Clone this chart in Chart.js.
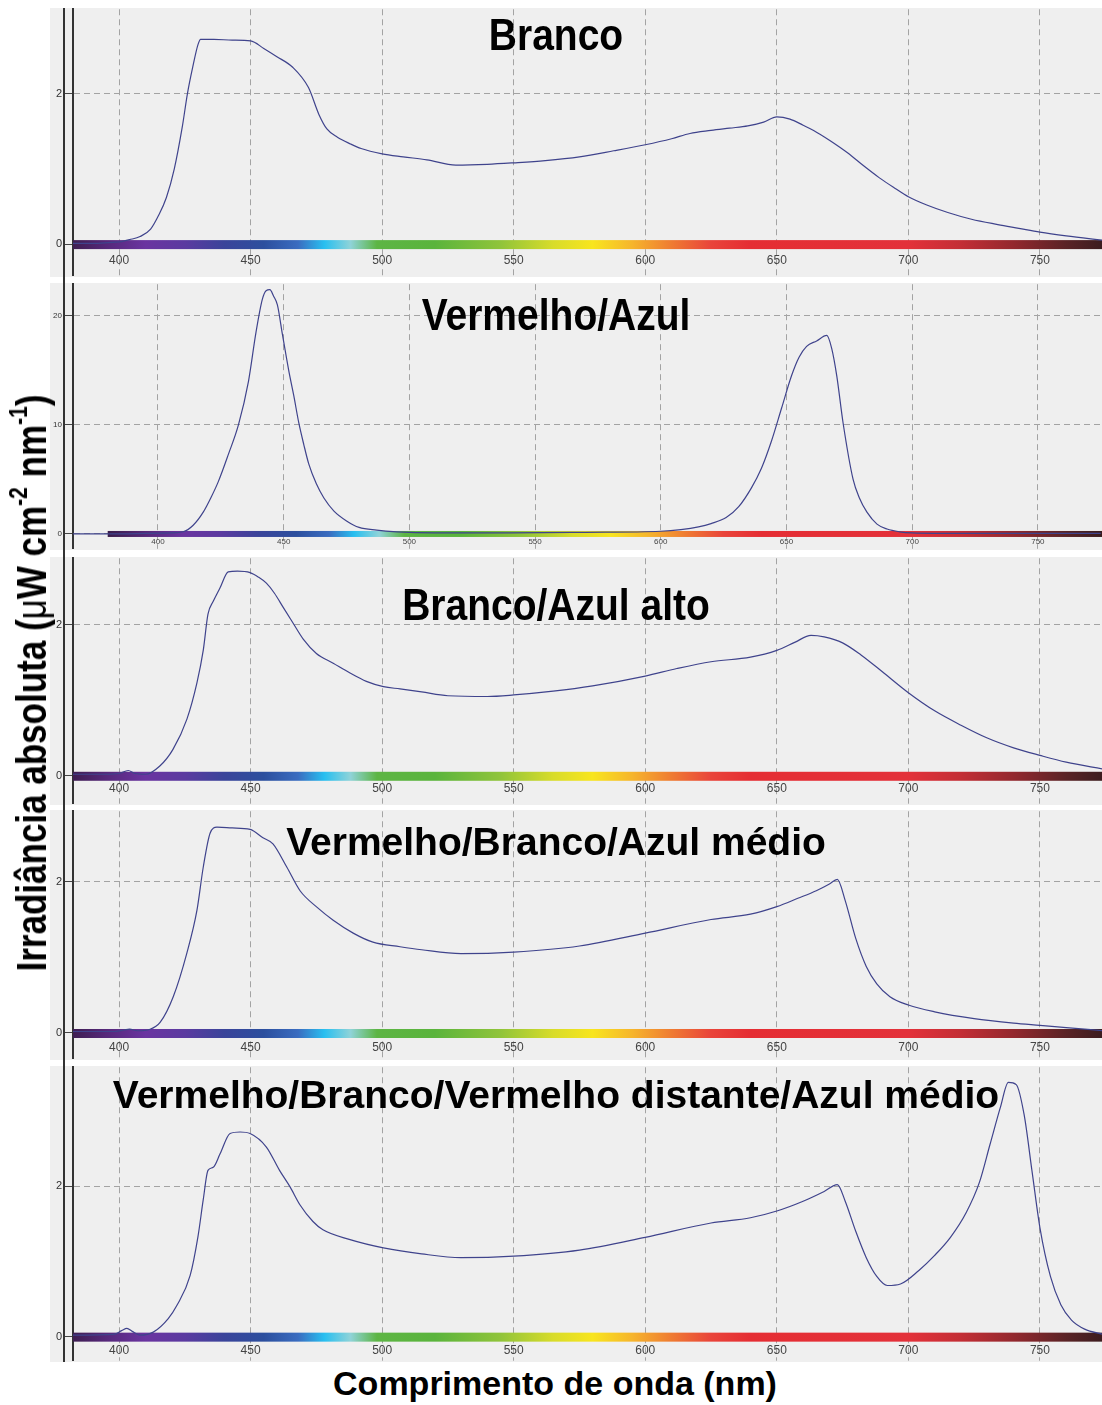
<!DOCTYPE html>
<html>
<head>
<meta charset="utf-8">
<script src="https://cdn.jsdelivr.net/npm/chart.js@4.4.1/dist/chart.umd.min.js"></script>
<style>
  body {
    margin: 0;
    width: 1102px;
    height: 1405px;
    position: relative;
    overflow: hidden;
    background: #fff;
    font-family: "Liberation Sans", Arial, sans-serif;
  }
  canvas { position: absolute; left: 50px; }
  .title {
    position: absolute;
    left: 556px;
    font-weight: bold;
    font-size: 39px;
    line-height: 39px;
    white-space: nowrap;
    color: #000;
  }
  .axis-line { position: absolute; left: 63px; top: 8px; width: 2px; height: 1354px; background: #333; }
  #ytitle {
    position: absolute;
    left: 31px;
    top: 683px;
    font-weight: bold;
    font-size: 35px;
    line-height: 35px;
    white-space: nowrap;
    transform: translate(-50%, -50%) rotate(-90deg) scale(1, 1.2);
  }
  #ytitle sup { font-size: 0.6em; line-height: 0; vertical-align: 0.75em; }
  #xtitle {
    position: absolute;
    left: 555px;
    top: 1366px;
    font-weight: bold;
    font-size: 34px;
    line-height: 34px;
    white-space: nowrap;
    transform: translateX(-50%);
  }
</style>
</head>
<body>
<canvas id="p1" width="1052" height="269" style="top:8px"></canvas>
<canvas id="p2" width="1052" height="267" style="top:283px"></canvas>
<canvas id="p3" width="1052" height="248" style="top:557px"></canvas>
<canvas id="p4" width="1052" height="250" style="top:810px"></canvas>
<canvas id="p5" width="1052" height="296" style="top:1066px"></canvas>
<div class="axis-line"></div>

<div class="title" style="top:15px; transform: translateX(-50%) scaleY(1.15)">Branco</div>
<div class="title" style="top:295px; transform: translateX(-50%) scaleY(1.15)">Vermelho/Azul</div>
<div class="title" style="top:585px; transform: translateX(-50%) scaleY(1.15)">Branco/Azul alto</div>
<div class="title" style="top:822px; transform: translateX(-50%)">Vermelho/Branco/Azul médio</div>
<div class="title" style="top:1075px; transform: translateX(-50%)">Vermelho/Branco/Vermelho distante/Azul médio</div>

<div id="ytitle">Irradiância absoluta (<span style="font-weight:normal">μ</span>W cm<sup>-2</sup> nm<sup>-1</sup>)</div>
<div id="xtitle">Comprimento de onda (nm)</div>

<script>
Chart.defaults.font.family = '"Liberation Sans", Arial, sans-serif';

// tick steps
const xTickStep = 50;
const yTickSteps = [2, 10, 2, 2, 2];

// Branco
const brancoNm = [382, 390, 396, 400, 404, 408, 412, 415, 418, 421, 424, 426, 428, 430, 431, 436, 443, 450, 455, 460, 466, 472, 476, 479, 483, 488, 492, 500, 508, 517, 528, 540, 550, 562, 575, 588, 600, 610, 617, 625, 632, 639, 645, 650, 655, 660, 664, 670, 677, 683, 689, 695, 700, 707, 715, 724, 734, 742, 750, 760, 774];
const brancoVal = [0.01, 0.01, 0.02, 0.03, 0.06, 0.1, 0.2, 0.38, 0.62, 1.0, 1.55, 2.0, 2.35, 2.65, 2.72, 2.72, 2.71, 2.7, 2.6, 2.49, 2.35, 2.08, 1.72, 1.53, 1.42, 1.33, 1.27, 1.2, 1.16, 1.12, 1.05, 1.06, 1.08, 1.11, 1.16, 1.24, 1.32, 1.4, 1.47, 1.51, 1.54, 1.57, 1.62, 1.69, 1.66, 1.58, 1.51, 1.38, 1.21, 1.04, 0.88, 0.74, 0.63, 0.52, 0.42, 0.33, 0.26, 0.21, 0.16, 0.11, 0.05];

// Vermelho/Azul
const vermAzulNm = [366, 380, 395, 405, 410, 414, 418, 421, 424, 428, 432, 436, 439, 441.5, 443, 444.5, 446, 447.5, 449.5, 452, 454, 456, 458, 460, 463, 466, 470, 475, 480, 487, 495, 510, 540, 570, 600, 608, 615, 620, 626, 631, 636, 640, 644, 648, 652, 655, 658, 662, 666, 668, 670, 672.5, 676.5, 679, 682, 686, 690, 695, 700, 720, 750, 775];
const vermAzulVal = [0, 0, 0.05, 0.1, 0.2, 0.8, 2.0, 3.3, 4.8, 7.3, 10.0, 14.0, 18.5, 21.5, 22.3, 22.4, 21.8, 21.0, 18.3, 15.0, 12.7, 10.2, 8.2, 6.4, 4.6, 3.3, 2.1, 1.2, 0.6, 0.35, 0.2, 0.1, 0.1, 0.15, 0.25, 0.4, 0.65, 0.95, 1.5, 2.5, 4.2, 6.0, 8.5, 11.5, 14.5, 16.2, 17.2, 17.7, 18.2, 17.0, 14.5, 10.2, 5.0, 3.3, 2.0, 0.9, 0.45, 0.2, 0.1, 0.05, 0.05, 0.05];

// Branco/Azul alto
const brancoAzulNm = [382, 395, 400, 403.5, 406, 410, 415.5, 420.5, 425.8, 429.6, 432, 433.8, 435.8, 438.4, 441.5, 445, 449.8, 453, 456, 459, 462.4, 466, 470, 475, 481.4, 487.8, 494, 500.5, 506.8, 515, 525, 540, 550, 565, 580, 600, 612, 625, 640, 650, 657, 663, 668, 675, 682, 690, 700, 710, 720, 730, 740, 750, 760, 774];
const brancoAzulVal = [0.02, 0.02, 0.03, 0.07, 0.03, 0.02, 0.13, 0.35, 0.75, 1.23, 1.66, 2.14, 2.31, 2.49, 2.7, 2.71, 2.69, 2.63, 2.55, 2.42, 2.23, 2.03, 1.81, 1.62, 1.49, 1.36, 1.25, 1.18, 1.15, 1.11, 1.06, 1.05, 1.07, 1.12, 1.19, 1.32, 1.42, 1.51, 1.57, 1.66, 1.77, 1.86, 1.84, 1.76, 1.6, 1.38, 1.1, 0.86, 0.67, 0.5, 0.37, 0.27, 0.18, 0.09];

// Vermelho/Branco/Azul médio
const vbaNm = [382, 398, 402, 404, 407, 411.8, 415.6, 420.6, 425.8, 429.6, 432, 434.6, 437.2, 443, 449.8, 454.7, 458.5, 463.8, 468.8, 475.3, 481.4, 489, 496.5, 506.8, 515, 530, 550, 575, 600, 625, 640, 650, 658, 665, 670, 673, 676, 680, 684, 688, 693, 700, 710, 725, 740, 750, 760, 774];
const vbaVal = [0.02, 0.02, 0.04, 0.05, 0.03, 0.05, 0.14, 0.48, 1.06, 1.62, 2.19, 2.64, 2.72, 2.71, 2.69, 2.58, 2.5, 2.19, 1.88, 1.66, 1.49, 1.32, 1.2, 1.14, 1.1, 1.05, 1.07, 1.15, 1.32, 1.5, 1.57, 1.67, 1.78, 1.88, 1.97, 2.03, 1.75, 1.25, 0.88, 0.65, 0.48, 0.37, 0.28, 0.19, 0.13, 0.1, 0.07, 0.03];

// Vermelho/Branco/Vermelho distante/Azul médio
const vbvaNm = [382, 398, 401, 403, 405, 408, 413, 418.7, 421.9, 427, 430, 432, 433.8, 435.8, 438.4, 442.2, 446, 449.8, 456, 461, 465, 468.8, 473.7, 477.5, 487.8, 500.5, 515, 530, 550, 575, 600, 625, 640, 650, 660, 668, 673, 676, 680, 684, 688, 692, 697, 704, 710, 716, 722, 727, 731, 735, 738, 741, 744, 747, 750, 754, 758, 762, 767, 774];
const vbvaVal = [0.02, 0.03, 0.08, 0.11, 0.07, 0.02, 0.06, 0.24, 0.41, 0.81, 1.33, 1.82, 2.21, 2.25, 2.43, 2.7, 2.72, 2.7, 2.52, 2.21, 1.99, 1.75, 1.53, 1.42, 1.29, 1.18, 1.1, 1.05, 1.07, 1.15, 1.32, 1.51, 1.58, 1.67, 1.8, 1.93, 2.02, 1.8, 1.4, 1.05, 0.8, 0.68, 0.7, 0.88, 1.08, 1.32, 1.65, 2.05, 2.55, 3.05, 3.38, 3.35, 2.95, 2.2, 1.45, 0.8, 0.42, 0.22, 0.1, 0.03];

// colour band under the spectrum
const spectrumNm = [380, 395, 410, 425, 440, 455, 468, 478, 488, 498, 520, 545, 565, 580, 595, 610, 625, 640, 700, 720, 740, 760, 780];
const spectrumColors = ["#3a1c4a", "#56287a", "#6a34a0", "#5b3aa0", "#3a449a", "#2c4f9e", "#3a6cc0", "#28bff0", "#8fd3d8", "#5db544", "#5ab43c", "#90c43a", "#d8dc2a", "#f8e51e", "#f6b52c", "#ef7b32", "#e9443a", "#e52d33", "#e3313a", "#c32e35", "#93282e", "#5a2326", "#2e1a1c"];

function toPoints(nm, values) {
  return nm.map((w, i) => ({ x: w, y: values[i] }));
}

const spectrumBar = {
  id: "spectrumBar",
  beforeDraw(chart) {
    const { ctx, width, height } = chart;
    ctx.save();
    ctx.fillStyle = "#efefef";
    ctx.fillRect(0, 0, width, height);
    ctx.restore();
  },
  beforeDatasetsDraw(chart, args, opts) {
    const { ctx, chartArea, scales } = chart;
    const first = spectrumNm[0];
    const last = spectrumNm[spectrumNm.length - 1];
    const x0 = scales.x.getPixelForValue(first);
    const x1 = scales.x.getPixelForValue(last);
    const y0 = scales.y.getPixelForValue(0);
    const grad = ctx.createLinearGradient(x0, 0, x1, 0);
    spectrumNm.forEach((w, i) => {
      grad.addColorStop((w - first) / (last - first), spectrumColors[i]);
    });
    const left = Math.max(x0, chartArea.left);
    const right = Math.min(x1, chartArea.right);
    const h = opts.height || 9;
    ctx.save();
    ctx.fillStyle = grad;
    ctx.fillRect(left, y0 - Math.floor(h / 2), right - left, h);
    ctx.restore();
  },
};

function drawPanel(id, nm, values, opts) {
  const ctx = document.getElementById(id).getContext("2d");
  return new Chart(ctx, {
    type: "line",
    data: {
      datasets: [
        {
          data: toPoints(nm, values),
          borderColor: "#3f438c",
          borderWidth: 1.2,
          pointRadius: 0,
          cubicInterpolationMode: "monotone",
          fill: false,
        },
      ],
    },
    options: {
      responsive: false,
      animation: false,
      events: [],
      layout: { padding: 0 },
      plugins: {
        legend: { display: false },
        tooltip: { enabled: false },
        spectrumBar: { height: opts.barHeight },
      },
      scales: {
        x: {
          type: "linear",
          position: { y: 0 },
          min: opts.xMin,
          max: opts.xMax,
          ticks: {
            stepSize: xTickStep,
            includeBounds: false,
            padding: opts.xPad,
            color: "#444",
            font: { size: opts.xFont },
          },
          grid: { color: "#a3a3a3", drawTicks: false },
          border: { display: false, dash: [6, 4] },
        },
        y: {
          min: opts.yMin,
          max: opts.yMax,
          ticks: {
            stepSize: opts.yStep,
            includeBounds: false,
            padding: 1,
            color: "#333",
            // tiny line height so the labels add no top/bottom padding
            font: { size: opts.yFont, lineHeight: 0.05 },
          },
          grid: { color: "#a3a3a3", tickColor: "#444", tickLength: 10, tickBorderDash: [] },
          border: { display: true, color: "#333", width: 2, dash: [6, 4] },
          afterFit(scale) {
            scale.width = 23;
          },
        },
      },
    },
    plugins: [spectrumBar],
  });
}

drawPanel("p1", brancoNm, brancoVal, { xMin: 382.5, xMax: 773.6, yMin: -0.42, yMax: 3.12, yStep: yTickSteps[0], xPad: 9, xFont: 12, yFont: 11, barHeight: 9 });
drawPanel("p2", vermAzulNm, vermAzulVal, { xMin: 366.2, xMax: 775.5, yMin: -1.36, yMax: 22.9, yStep: yTickSteps[1], xPad: 3, xFont: 8, yFont: 8, barHeight: 6 });
drawPanel("p3", brancoAzulNm, brancoAzulVal, { xMin: 382.5, xMax: 773.6, yMin: -0.37, yMax: 2.88, yStep: yTickSteps[2], xPad: 6, xFont: 12, yFont: 11, barHeight: 9 });
drawPanel("p4", vbaNm, vbaVal, { xMin: 382.5, xMax: 773.6, yMin: -0.34, yMax: 2.93, yStep: yTickSteps[3], xPad: 7, xFont: 12, yFont: 11, barHeight: 9 });
drawPanel("p5", vbvaNm, vbvaVal, { xMin: 382.5, xMax: 773.6, yMin: -0.32, yMax: 3.58, yStep: yTickSteps[4], xPad: 7, xFont: 12, yFont: 11, barHeight: 9 });
</script>
</body>
</html>
